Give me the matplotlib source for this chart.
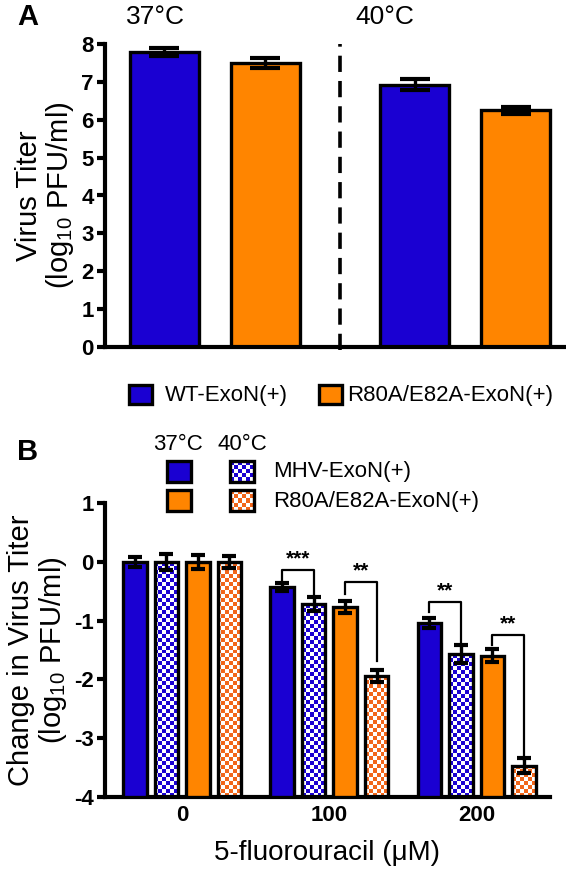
import numpy as np
import matplotlib
matplotlib.use("Agg")
import matplotlib.pyplot as plt
from matplotlib.patches import Rectangle
from matplotlib.collections import PatchCollection

plt.rcParams['font.family'] = ['Liberation Sans', 'DejaVu Sans']
plt.rcParams['mathtext.default'] = 'regular'

BLUE = '#1a00d2'
ORANGE = '#ff8500'
ORANGE_CHK = '#f2661a'

# --- data, panel A ---
a_labels = ['WT-ExoN(+)', 'R80A/E82A-ExoN(+)']
a_temps = ['37°C', '40°C']
a_titer = [7.80, 7.50, 6.93, 6.25]       # WT 37, R80A 37, WT 40, R80A 40
a_err = [0.10, 0.13, 0.15, 0.10]

# --- data, panel B ---
b_doses = ['0', '100', '200']
b_series = ['MHV-ExoN(+)', 'R80A/E82A-ExoN(+)']
b_wt37 = [0.0, -0.42, -1.04]
b_wt40 = [0.0, -0.72, -1.57]
b_mut37 = [0.0, -0.77, -1.60]
b_mut40 = [0.0, -1.94, -3.47]
b_wt37_err = [0.09, 0.07, 0.08]
b_wt40_err = [0.14, 0.12, 0.15]
b_mut37_err = [0.12, 0.10, 0.11]
b_mut40_err = [0.10, 0.10, 0.13]
# significance brackets: (dose idx, bar i, bar j, top, left end, right end, label)
b_sig = [(1, 0, 1, -0.14, -0.31, -0.54, '***'),
         (1, 2, 3, -0.34, -0.54, -1.68, '**'),
         (2, 0, 1, -0.68, -0.85, -1.42, '**'),
         (2, 2, 3, -1.25, -1.42, -3.38, '**')]

W, H = 566, 871
fig = plt.figure(figsize=(W / 100, H / 100), dpi=100)


def fax(l, t, r, b):
    return [l / W, 1 - b / H, (r - l) / W, (b - t) / H]


def checker(ax, x0, y0, w, h, color, z, cell=4.0):
    # checkerboard fill made of small squares (about `cell` pixels each)
    p0 = ax.transData.transform((x0, y0))
    p1 = ax.transData.transform((x0 + w, y0 + h))
    nx = max(1, int(round(abs(p1[0] - p0[0]) / cell)))
    ny = max(1, int(round(abs(p1[1] - p0[1]) / cell)))
    dx, dy = w / nx, h / ny
    cells = [Rectangle((x0 + i * dx, y0 + j * dy), dx, dy)
             for j in range(ny) for i in range(nx) if (i + j) % 2 == 0]
    ax.add_patch(Rectangle((x0, y0), w, h, facecolor='white', edgecolor='none', zorder=z))
    ax.add_collection(PatchCollection(cells, facecolor=color, edgecolor='none',
                                      zorder=z + 0.1))


def style_axes(ax):
    for s in ['top', 'right']:
        ax.spines[s].set_visible(False)
    for s in ['left', 'bottom']:
        ax.spines[s].set_linewidth(3)
    ax.tick_params(axis='y', width=3, length=6, labelsize=16, pad=2)
    for lab in ax.get_yticklabels():
        lab.set_fontweight('bold')


# ---------------- panel A ----------------
axA = fig.add_axes(fax(105, 44.3, 564, 346.7))
xa = np.array([0, 1, 2.475, 3.475])
axA.set_xlim(-0.584, 3.95)
axA.set_ylim(0, 8)
colsA = [BLUE, ORANGE, BLUE, ORANGE]
axA.bar(xa, a_titer, width=0.68, color=colsA, edgecolor='black', linewidth=2.4, zorder=2)
axA.errorbar(xa, a_titer, yerr=a_err, fmt='none', ecolor='black', elinewidth=2.4,
             capsize=11, capthick=3, zorder=3)
axA.plot([1.74, 1.74], [-0.1, 8], color='black', lw=2.6, ls=(0, (4.5, 2.5)), zorder=1,
         clip_on=False)
axA.set_yticks(range(0, 9))
axA.set_xticks([])
axA.set_ylabel('Virus Titer\n(log$_{10}$ PFU/ml)', fontsize=21, labelpad=4, linespacing=1.05)
style_axes(axA)

# ---------------- panel B ----------------
axB = fig.add_axes(fax(105, 503.3, 550, 796.7))
axB.set_xlim(-0.523, 2.498)
axB.set_ylim(-4, 1)
base = -4
xg = np.arange(len(b_doses))
off = 0.2139
bw = 0.16
vals = [b_wt37, b_wt40, b_mut37, b_mut40]
errs = [b_wt37_err, b_wt40_err, b_mut37_err, b_mut40_err]
cols = [BLUE, BLUE, ORANGE, ORANGE_CHK]
chk = [False, True, False, True]
for k in range(4):
    xs = xg + (k - 1.5) * off
    heights = np.array(vals[k]) - base
    if chk[k]:
        for x, hgt in zip(xs, heights):
            checker(axB, x - bw / 2, base, bw, hgt, cols[k], 2)
        axB.bar(xs, heights, width=bw, bottom=base, color='none', edgecolor='black',
                linewidth=2.4, zorder=3)
    else:
        axB.bar(xs, heights, width=bw, bottom=base, color=cols[k], edgecolor='black',
                linewidth=2.4, zorder=3)
    axB.errorbar(xs, vals[k], yerr=errs[k], fmt='none', ecolor='black', elinewidth=2.4,
                 capsize=5, capthick=3, zorder=4)

for g, i, j, top, yl, yr, lab in b_sig:
    xi = g + (i - 1.5) * off
    xj = g + (j - 1.5) * off
    axB.plot([xi, xi, xj, xj], [yl, top, top, yr], color='black', lw=1.6, zorder=5)
    axB.text((xi + xj) / 2, top + 0.03, lab, ha='center', va='bottom', fontsize=15,
             fontweight='bold')

axB.set_xticks(xg)
axB.set_xticklabels(b_doses)
axB.set_yticks([1, 0, -1, -2, -3, -4])
axB.set_yticklabels(['1', '0', '-1', '-2', '-3', '-4'])
axB.set_ylabel('Change in Virus Titer\n(log$_{10}$ PFU/ml)', fontsize=21, labelpad=4,
               linespacing=1.05)
axB.set_xlabel('5-fluorouracil (\u03bcM)', fontsize=20, labelpad=10)
style_axes(axB)
axB.tick_params(axis='x', length=0, labelsize=16, pad=6)
for lab in axB.get_xticklabels():
    lab.set_fontweight('bold')

# ---------------- overlay (pixel coords) ----------------
ov = fig.add_axes([0, 0, 1, 1])
ov.set_axis_off()
ov.patch.set_visible(False)
ov.set_xlim(0, W)
ov.set_ylim(H, 0)

ov.text(17, 17, 'A', fontsize=21, fontweight='bold', ha='left', va='center')
ov.text(155, 17, a_temps[0], fontsize=19, ha='center', va='center')
ov.text(385, 17, a_temps[1], fontsize=19, ha='center', va='center')

for (x0, tx), lab, c in zip([(128.5, 164.5), (318.5, 347.5)], a_labels, [BLUE, ORANGE]):
    ov.add_patch(Rectangle((x0, 385), 23, 19, facecolor=c, edgecolor='black', lw=2.4))
    ov.text(tx, 395, lab, fontsize=16, ha='left', va='center')

ov.text(17, 452, 'B', fontsize=21, fontweight='bold', ha='left', va='center')
ov.text(177.5, 444, a_temps[0], fontsize=16, ha='center', va='center')
ov.text(242.5, 444, a_temps[1], fontsize=16, ha='center', va='center')
for row, (y0, lab) in enumerate(zip([460.5, 490], b_series)):
    solid = [BLUE, ORANGE][row]
    patt = [BLUE, ORANGE_CHK][row]
    ov.add_patch(Rectangle((166.5, y0), 24, 21, facecolor=solid, edgecolor='black', lw=2.4))
    checker(ov, 230, y0, 23.5, 21, patt, 1, cell=4.0)
    ov.add_patch(Rectangle((230, y0), 23.5, 21, facecolor='none', edgecolor='black', lw=2.4,
                           zorder=3))
    ov.text(273, y0 + 11, lab, fontsize=16, ha='left', va='center')

fig.savefig('out.png', dpi=100)
